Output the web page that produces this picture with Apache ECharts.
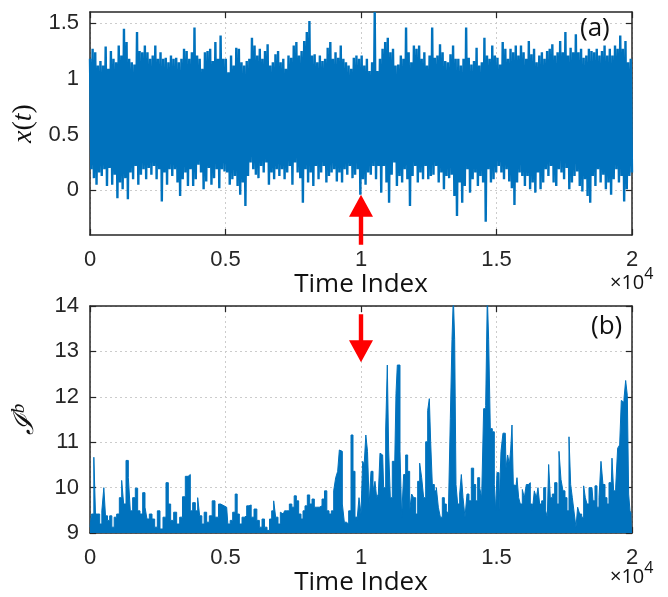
<!DOCTYPE html>
<html>
<head>
<meta charset="utf-8">
<script src="https://cdn.jsdelivr.net/npm/echarts@6/dist/echarts.min.js"></script>
<style>
  html, body { margin: 0; padding: 0; background: #ffffff; }
  #chart { width: 668px; height: 597px; }
</style>
</head>
<body>
<div id="chart"></div>
<script>
// panel (a): upper and lower swings of x(t), read left to right
var xHigh = [
  1.18,1.27,1.24,1.12,1.16,1.12,1.29,1.09,1.25,1.18,1.15,1.30,1.21,1.45,1.33,1.18,1.15,1.13,1.42,1.25,1.24,1.30,1.24,1.18,1.21,1.30,
  1.18,1.24,1.18,1.19,1.15,1.21,1.18,1.19,1.15,1.18,1.27,1.25,1.18,1.24,1.46,1.21,1.18,1.09,1.24,1.25,1.27,1.16,1.33,1.18,1.39,1.18,
  1.18,1.06,1.21,1.12,1.28,1.27,1.15,1.12,1.16,1.18,1.37,1.30,1.21,1.27,1.18,1.25,1.31,1.12,1.15,1.22,1.25,1.15,1.18,1.09,1.21,1.19,
  1.30,1.33,1.21,1.25,1.34,1.42,1.52,1.21,1.22,1.15,1.21,1.16,1.18,1.28,1.33,1.18,1.24,1.19,1.30,1.18,1.15,1.12,1.09,1.19,1.21,1.18,
  1.21,1.12,1.18,1.07,1.15,1.60,1.07,1.18,1.27,1.33,1.37,1.24,1.27,1.12,1.13,1.21,1.18,1.46,1.24,1.15,1.30,1.27,1.30,1.18,1.24,1.12,
  1.21,1.46,1.19,1.21,1.31,1.24,1.16,1.15,1.22,1.30,1.18,1.18,1.12,1.18,1.46,1.19,1.13,1.16,1.28,1.12,1.15,1.37,1.21,1.18,1.30,1.21,
  1.19,1.13,1.33,1.27,1.18,1.27,1.24,1.30,1.21,1.30,1.24,1.18,1.34,1.22,1.27,1.15,1.21,1.24,1.18,1.25,1.27,1.31,1.21,1.24,1.34,1.24,
  1.42,1.21,1.28,1.24,1.40,1.24,1.27,1.19,1.21,1.27,1.25,1.24,1.27,1.21,1.25,1.30,1.21,1.27,1.21,1.30,1.27,1.39,1.27,1.34,1.15,1.18
];
var xLow = [
  0.19,0.11,0.05,0.16,0.13,0.19,0.04,0.20,0.05,0.14,-0.07,0.07,0.01,0.11,-0.08,0.16,0.10,0.22,0.05,0.14,0.19,0.10,0.20,0.14,0.22,0.10,
  0.19,-0.10,0.16,0.05,0.19,0.13,0.19,0.07,-0.05,0.10,0.16,0.04,0.19,0.04,0.10,0.23,0.16,0.01,0.08,0.20,0.05,0.11,0.19,0.02,0.19,0.17,
  0.16,0.05,0.10,0.13,0.04,-0.04,0.07,-0.14,0.13,0.25,0.19,0.14,0.11,0.22,0.16,0.25,0.05,0.16,0.10,0.19,0.13,0.19,0.10,0.16,0.22,0.05,
  0.25,0.16,0.11,-0.11,0.19,0.07,0.16,0.04,0.22,0.10,0.16,0.22,0.07,0.13,0.16,0.19,0.08,0.16,0.07,0.19,0.14,0.22,0.11,0.14,0.19,-0.04,
  0.10,0.05,0.16,0.14,0.22,0.10,0.22,-0.02,0.22,0.07,-0.11,0.14,0.25,0.04,0.13,0.07,0.19,0.10,-0.14,0.13,0.22,0.07,0.16,0.10,0.22,0.10,
  0.13,0.14,0.22,0.07,0.16,0.01,0.13,0.11,0.14,-0.05,-0.23,0.07,-0.11,0.04,0.19,-0.02,0.10,0.16,0.04,0.13,0.07,-0.28,0.19,0.07,0.10,0.16,
  0.22,0.16,0.10,0.19,0.08,0.02,-0.13,0.07,0.16,0.13,0.04,0.13,0.01,0.07,-0.02,0.16,0.01,0.07,0.19,0.13,0.22,0.07,0.04,0.19,0.16,0.10,
  0.20,0.01,0.07,0.13,0.17,0.04,-0.01,0.10,-0.05,-0.11,0.13,0.04,0.19,0.07,0.14,0.01,0.07,-0.04,0.10,0.19,0.07,0.13,-0.10,0.01,0.13,0.16
];

// panel (b): I^b, time index and value
var ibTime = [
  0,111,172,234,320,394,480,541,603,689,763,849,935,1033,1132,1205,1279,1378,1451,1525,1623,1722,1796,1894,1993,2066,2140,2239,2337,2435,
  2534,2632,2755,2853,2927,3026,3149,3247,3370,3456,3579,3665,3739,3838,3936,4010,4083,4170,4256,4354,4453,4564,4662,4822,
  4945,5043,5130,5216,5314,5400,5462,5560,5658,5732,5831,5904,5991,6114,6200,6298,6397,6483,6581,6667,6741,6815,6888,6987,7061,7134,
  7221,7307,7405,7491,7577,7651,7749,7823,7897,7971,8069,8143,8241,8315,8413,8512,8610,8696,8783,8857,8955,9029,9102,9176,9225,9275,
  9348,9422,9496,9594,9668,9742,9816,9890,
  9963,10037,10086,10148,10209,10271,10332,10406,10480,10553,10603,10676,10726,10799,10873,10947,10996,11045,11119,11193,11267,11316,
  11365,11414,11464,11537,11611,11685,11759,11833,11906,11980,12054,12128,12202,12275,12349,12423,12497,12546,12595,12669,12743,12817,
  12890,12964,13038,13112,13186,13259,13333,13382,13432,13481,13530,13604,13678,13727,13801,13874,13948,14022,14120,14194,14268,14342,
  14416,14489,14563,14637,14686,14735,14809,14883,14957,
  14981,15055,15129,15202,15276,15325,15375,15448,15498,15547,15596,15645,15719,15793,15842,15916,15990,16063,16137,16211,16285,16359,
  16432,16506,16555,16629,16703,16777,16851,16900,16949,17023,17097,17195,17269,17343,17416,17490,17564,17638,17712,17761,17835,17908,
  17958,18031,18105,18179,18253,18302,18376,18450,18523,18597,18671,18745,18819,18892,18966,19040,19114,19188,19237,19286,19360,19434,
  19507,19581,19630,19680,19729,19803,19852,19901,19950,20000
];
var ibValue = [
  9.13,9.42,10.67,9.42,9.42,9.20,9.49,10.0,9.38,9.28,9.38,9.13,9.35,9.42,9.78,10.16,9.64,10.60,10.22,9.49,9.78,9.99,9.49,9.42,9.89,9.57,
  9.31,9.42,9.31,9.13,9.49,9.09,9.35,10.11,9.64,9.28,9.46,9.20,9.35,9.80,10.25,10.29,9.49,9.67,9.49,9.78,9.38,9.20,9.46,9.24,9.38,9.71,
  9.35,9.64,
  9.60,9.57,9.20,9.28,9.46,9.86,9.42,9.20,9.35,9.38,9.60,9.62,9.35,9.53,9.28,9.13,9.31,9.13,9.06,9.31,9.49,9.71,9.35,9.20,9.46,9.42,
  9.49,9.49,9.64,9.57,9.82,9.71,9.42,9.31,9.49,9.60,9.84,9.64,9.75,9.57,9.57,9.60,9.75,9.93,9.49,9.42,9.49,9.93,10.22,10.36,10.83,10.80,
  9.64,9.24,9.20,9.49,11.16,10.36,9.35,9.28,
  9.78,9.42,10.58,10.51,11.16,10.80,9.64,10.36,9.93,10.14,9.78,9.86,10.76,10.72,10.0,11.27,12.70,10.83,9.78,10.58,10.07,12.07,
  12.70,12.70,10.80,9.35,10.29,10.72,10.36,9.49,9.86,9.78,9.42,10.14,10.54,10.22,9.78,11.01,11.70,11.96,11.01,10.07,9.93,10.0,
  9.57,9.35,9.78,9.64,9.49,9.42,11.52,13.26,14.2,13.26,10.07,9.64,9.86,10.29,9.78,9.35,9.86,9.71,10.43,10.07,9.71,10.22,
  10.0,9.78,11.74,11.81,14.2,13.26,11.30,11.23,10.07,
  9.49,10.33,9.49,10.80,11.20,11.20,10.43,10.72,10.51,10.83,11.38,10.07,10.04,10.22,9.78,9.64,9.96,9.78,10.07,10.11,9.64,9.49,
  9.93,9.78,10.0,9.64,9.71,10.0,9.49,9.35,10.51,9.78,9.86,10.11,9.64,10.80,10.18,9.93,9.78,9.49,11.12,10.07,9.78,9.42,
  9.13,9.57,9.42,9.35,10.04,9.78,9.64,10.0,10.0,9.71,10.04,9.57,9.78,10.58,10.07,9.78,9.64,10.11,10.11,10.65,9.93,10.0,
  10.87,10.94,11.92,11.88,11.96,12.36,12.03,9.86,9.49,9.42
];

var xTicks = [0, 0.5, 1, 1.5];
var changePoint = 10000;

var chart = echarts.init(document.getElementById('chart'))
var blue = '#0072BD'
var ink = '#262626'

// high/low swings alternate at equal steps over the time index
var nPts = xHigh.length * 2
var dataA = []
for (var i = 0; i < xHigh.length; i++) {
  dataA.push([(2 * i) * 20000 / (nPts - 1), xHigh[i]])
  dataA.push([(2 * i + 1) * 20000 / (nPts - 1), xLow[i]])
}
var dataB = ibTime.map(function(t, k) { return [t, ibValue[k]] })

var gridLine = { show: true, lineStyle: { color: '#cccccc', type: [2, 3], width: 1 } }
var axisLine = { show: true, onZero: false, lineStyle: { color: ink, width: 1.5 } }
var tick = { show: true, inside: true, length: 6, lineStyle: { color: ink, width: 1.2 } }

function timeAxis(grid, pos, main) {
  return {
    type: 'value', gridIndex: grid, position: pos,
    min: 0, max: 20000, interval: 5000,
    axisLine: axisLine, axisTick: tick,
    axisLabel: {
      show: main, margin: 14, color: ink, fontSize: 22, fontFamily: 'Liberation Sans',
      formatter: function(v) { return String(v / 10000) }
    },
    splitLine: main ? gridLine : { show: false },
    name: main ? 'Time Index' : '', nameLocation: 'middle', nameGap: 35,
    nameTextStyle: { color: '#111111', fontSize: 26, fontFamily: 'Open Sans' }
  }
}

function valAxis(grid, pos, main, opts) {
  var a = {
    type: 'value', gridIndex: grid, position: pos,
    axisLine: axisLine, axisTick: tick,
    axisLabel: { show: main, margin: 11, color: ink, fontSize: 22, fontFamily: 'Liberation Sans' },
    splitLine: main ? gridLine : { show: false }
  }
  for (var k in opts) a[k] = opts[k]
  return a
}

var topY = { min: -0.4, max: 1.6 }
var botY = { min: 9, max: 14, interval: 1 }

var option = {
  animation: false,
  backgroundColor: '#ffffff',
  grid: [
    { left: 90, right: 36, top: 12, height: 223 },
    { left: 90, right: 36, top: 306, height: 230 }
  ],
  xAxis: [
    timeAxis(0, 'bottom', true),
    timeAxis(0, 'top', false),
    timeAxis(1, 'bottom', true),
    timeAxis(1, 'top', false)
  ],
  yAxis: [
    valAxis(0, 'left', true, {
      min: topY.min, max: topY.max,
      axisLabel: { show: true, margin: 11, color: ink, fontSize: 22, fontFamily: 'Liberation Sans', customValues: xTicks },
      axisTick: { show: true, inside: true, length: 6, lineStyle: { color: ink, width: 1.2 }, customValues: xTicks },
      name: '{i|x}{n|(}{i|t}{n|)}', nameLocation: 'middle', nameGap: 52,
      nameTextStyle: { rich: {
        i: { fontFamily: 'Liberation Serif', fontStyle: 'italic', fontSize: 28, color: '#111111' },
        n: { fontFamily: 'Liberation Serif', fontSize: 28, color: '#111111' }
      } }
    }),
    valAxis(0, 'right', false, {
      min: topY.min, max: topY.max,
      axisTick: { show: true, inside: true, length: 6, lineStyle: { color: ink, width: 1.2 }, customValues: xTicks }
    }),
    valAxis(1, 'left', true, {
      min: botY.min, max: botY.max, interval: botY.interval,
      name: '{c|ℐ}{s|b}', nameLocation: 'middle', nameGap: 48,
      nameTextStyle: { rich: {
        c: { fontFamily: 'DejaVu Serif', fontStyle: 'italic', fontSize: 28, color: '#111111' },
        s: { fontFamily: 'Liberation Serif', fontStyle: 'italic', fontSize: 19, color: '#111111', padding: [0, 0, 14, 1] }
      } }
    }),
    valAxis(1, 'right', false, { min: botY.min, max: botY.max, interval: botY.interval })
  ],
  series: [
    {
      type: 'line', xAxisIndex: 0, yAxisIndex: 0, data: dataA,
      symbol: 'none', sampling: null, clip: true, z: 3,
      lineStyle: { color: blue, width: 2.4 }
    },
    {
      type: 'line', xAxisIndex: 2, yAxisIndex: 2, data: dataB,
      symbol: 'none', clip: true, z: 3, step: 'middle',
      lineStyle: { color: blue, width: 1 },
      areaStyle: { color: blue, opacity: 1, origin: 'start' }
    }
  ]
}
chart.setOption(option)

// red arrows marking the change point, tip placed in data space
function arrow(tip, dir, len) {
  var hw = 12, hh = 22, sw = 2.2
  var x = tip[0], y = tip[1]
  return {
    type: 'polygon', z: 100, silent: true,
    shape: { points: [
      [x, y], [x + hw, y + dir * hh], [x + sw, y + dir * hh], [x + sw, y + dir * len],
      [x - sw, y + dir * len], [x - sw, y + dir * hh], [x - hw, y + dir * hh]
    ] },
    style: { fill: '#ff0000' }
  }
}
var tipA = chart.convertToPixel({ xAxisIndex: 0, yAxisIndex: 0 }, [changePoint, -0.04])
var tipB = chart.convertToPixel({ xAxisIndex: 2, yAxisIndex: 2 }, [changePoint, 12.76])

var txt = { fill: '#111111', fontFamily: 'Open Sans', fontSize: 26 }
function tenPow(top) {
  return { type: 'text', left: 610, top: top, z: 100, style: {
    text: '{m|×10}{e|4}', rich: {
      m: { fontFamily: 'Open Sans', fontSize: 20, fill: '#111111', padding: [10, 0, 0, 0] },
      e: { fontFamily: 'Open Sans', fontSize: 16, fill: '#111111', padding: [0, 0, 8, 0] }
    } } }
}
chart.setOption({
  graphic: [
    arrow(tipA, 1, 50),
    arrow(tipB, -1, 48),
    { type: 'text', left: 580, top: 16, z: 100, style: Object.assign({ text: '(a)' }, txt) },
    { type: 'text', left: 591, top: 314, z: 100, style: Object.assign({ text: '(b)' }, txt) },
    tenPow(266),
    tenPow(560)
  ]
})

window.addEventListener('resize', () => {
  chart.resize()
})
</script>
</body>
</html>
